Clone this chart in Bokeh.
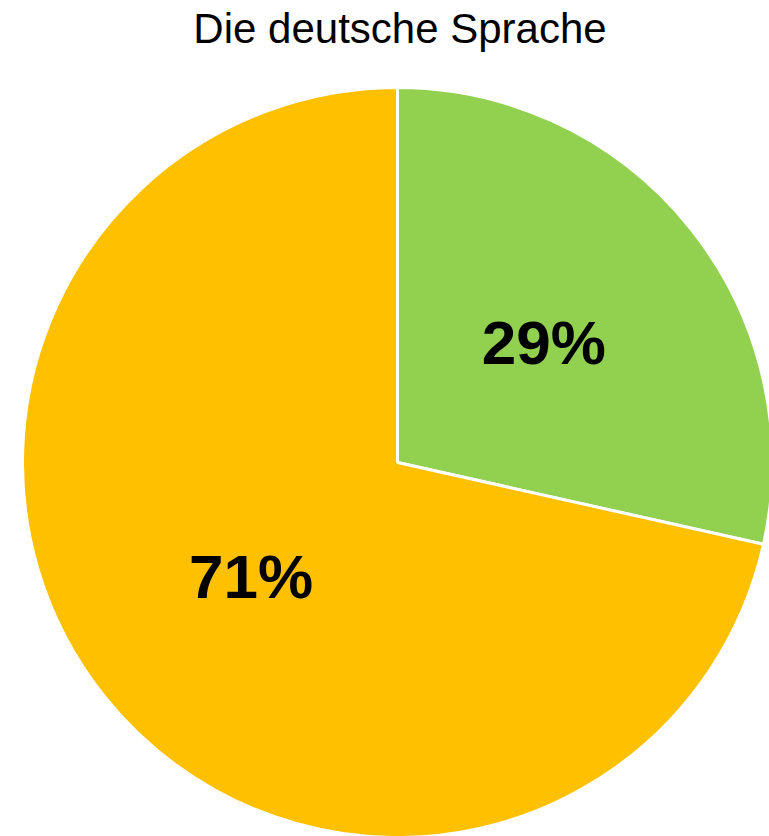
import numpy as np
from bokeh.plotting import figure
from bokeh.models import ColumnDataSource, Range1d, Label
from bokeh.core.properties import value
from bokeh.embed import file_html
from bokeh.resources import INLINE

# Data
categories = ["Grün", "Orange"]
shares = [28.5, 71.5]
labels = ["29%", "71%"]
colors = ["#92D050", "#FFC000"]
title_text = "Die deutsche Sprache"

W, H = 769, 836
cx, cy, r = 397, H - 462, 375

frac = np.array(shares) / sum(shares)
cum = np.concatenate([[0], np.cumsum(frac)])
start = np.pi / 2 - 2 * np.pi * cum[1:]
end = np.pi / 2 - 2 * np.pi * cum[:-1]
mid = (start + end) / 2

src = ColumnDataSource(dict(
    cat=categories, start=start, end=end, color=colors,
    lx=cx + 0.5 * r * np.cos(mid), ly=cy + 0.5 * r * np.sin(mid) + 3, label=labels,
))

p = figure(width=W, height=H, output_backend="svg", toolbar_location=None,
           x_range=Range1d(0, W), y_range=Range1d(0, H), min_border=0)
p.axis.visible = False
p.grid.visible = False
p.outline_line_color = None
p.background_fill_color = "white"

p.wedge(x=cx, y=cy, radius=r, start_angle="start", end_angle="end",
        fill_color="color", line_color="white", line_width=3, source=src)

p.text(x="lx", y="ly", text="label", source=src, text_align="center",
       text_baseline="middle", text_font=value("Liberation Sans"),
       text_font_style="bold", text_font_size="62px", text_color="black")

p.add_layout(Label(x=399.5, y=H - 28, text=title_text, text_align="center",
                   text_baseline="alphabetic", text_font="Liberation Sans",
                   text_font_size="42px", text_color="black"))

open("out.html", "w").write(file_html(p, INLINE))
